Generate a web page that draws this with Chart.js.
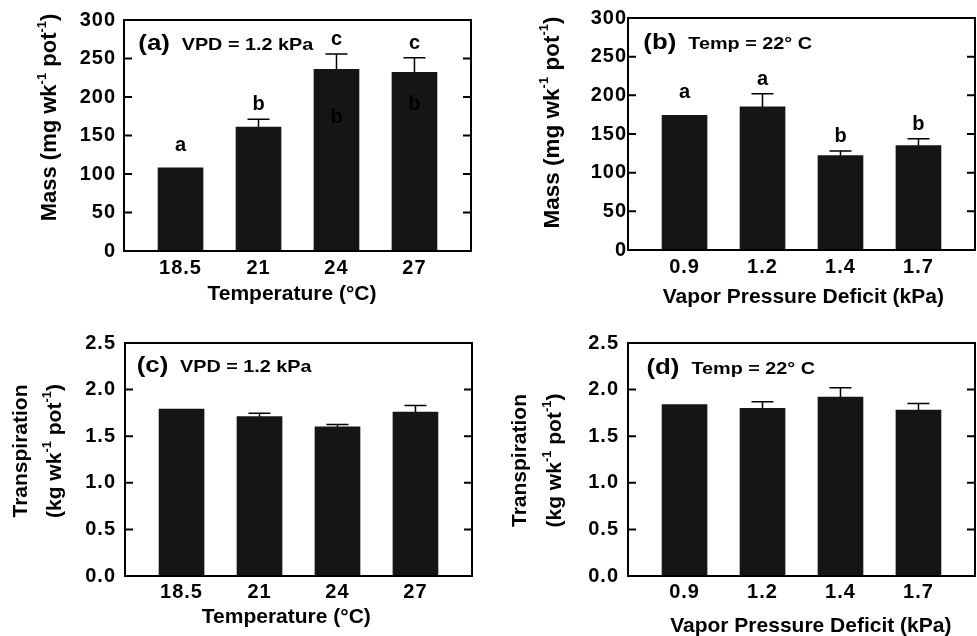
<!DOCTYPE html>
<html>
<head>
<meta charset="utf-8">
<script src="https://cdn.jsdelivr.net/npm/chart.js@4.4.0/dist/chart.umd.min.js"></script>
<style>
  body { margin: 0; background: #fff; width: 977px; height: 636px; position: relative; overflow: hidden; }
  canvas { position: absolute; }
</style>
</head>
<body>
<canvas id="pa" width="488" height="318" style="left:0;top:0"></canvas>
<canvas id="pb" width="487" height="318" style="left:490px;top:0"></canvas>
<canvas id="pc" width="488" height="316" style="left:0;top:320px"></canvas>
<canvas id="pd" width="487" height="316" style="left:490px;top:320px"></canvas>
<script>
/* данные */
const tempLabels = ['18.5', '21', '24', '27'];
const vpdLabels = ['0.9', '1.2', '1.4', '1.7'];

const massTemp = [108, 161, 236, 232];
const massTempErr = [0, 10, 20, 19];
const massTempLetters = ['a', 'b', 'c', 'c'];
const massTempInner = [null, null, 166, 183]; // бледные "b" внутри столбцов

const massVpd = [174, 185, 122, 135];
const massVpdErr = [0, 17, 6, 9];
const massVpdLetters = ['a', 'a', 'b', 'b'];

const trTemp = [1.79, 1.71, 1.60, 1.76];
const trTempErr = [0, 0.035, 0.025, 0.07];

const trVpd = [1.84, 1.80, 1.92, 1.78];
const trVpdErr = [0, 0.07, 0.10, 0.07];

const massTicks = [0, 50, 100, 150, 200, 250, 300];
const trTicks = [0, 0.5, 1.0, 1.5, 2.0, 2.5];

const FONT = '"Liberation Sans", Arial, Helvetica, sans-serif';
const SX = 1.2; // в оригинале шрифт слегка растянут по горизонтали

function fillWide(ctx, text, x, y) {
  ctx.save();
  ctx.translate(x, y);
  ctx.scale(SX, 1);
  ctx.fillText(text, 0, 0);
  ctx.restore();
}

/* текст с верхними индексами: [текст, верхний?] */
function drawRich(ctx, segs, cx, cy, size) {
  const main = 'bold ' + size + 'px ' + FONT, sup = 'bold 13px ' + FONT;
  let total = 0;
  segs.forEach(s => { ctx.font = s[1] ? sup : main; total += ctx.measureText(s[0]).width; });
  let x = cx - total / 2;
  ctx.textAlign = 'left';
  ctx.textBaseline = 'middle';
  segs.forEach(s => {
    ctx.font = s[1] ? sup : main;
    ctx.fillText(s[0], x, s[1] ? cy - 8 : cy);
    x += ctx.measureText(s[0]).width;
  });
}

/* рамка, внутренние засечки, погрешности, буквы, подписи панели */
const panelPlugin = {
  id: 'panel',
  beforeDraw(chart) {
    chart.ctx.letterSpacing = '1px'; // для подписей делений
  },
  afterDatasetsDraw(chart, args, o) {
    const { ctx, chartArea: a } = chart;
    const x = chart.scales.x, y = chart.scales.y;
    ctx.save();
    ctx.letterSpacing = '0px';
    ctx.strokeStyle = '#000';
    ctx.fillStyle = '#000';

    ctx.lineWidth = 1.5;
    ctx.font = 'bold 20px ' + FONT;
    ctx.textAlign = 'center';
    ctx.textBaseline = 'alphabetic';
    o.values.forEach((v, i) => {
      const e = o.errors[i];
      const px = x.getPixelForValue(i + 1);
      const y1 = y.getPixelForValue(v + e);
      if (e > 0) {
        ctx.beginPath();
        ctx.moveTo(px, y.getPixelForValue(v));
        ctx.lineTo(px, y1);
        ctx.moveTo(px - 11, y1);
        ctx.lineTo(px + 11, y1);
        ctx.stroke();
      }
      if (o.letters) ctx.fillText(o.letters[i], px, y1 - (e > 0 ? 9 : 17));
      if (o.inner && o.inner[i] != null) ctx.fillText('b', px, y.getPixelForValue(o.inner[i]));
    });

    ctx.lineWidth = 2;
    ctx.strokeRect(a.left, a.top, a.right - a.left, a.bottom - a.top);
    y.ticks.slice(1, -1).forEach(t => {
      const py = y.getPixelForValue(t.value);
      ctx.beginPath();
      ctx.moveTo(a.left, py); ctx.lineTo(a.left + 8, py);
      ctx.moveTo(a.right, py); ctx.lineTo(a.right - 8, py);
      ctx.stroke();
    });

    ctx.textAlign = 'left';
    ctx.font = 'bold 21.5px ' + FONT;
    fillWide(ctx, o.tag, a.left + o.tagDx, a.top + o.tagDy);
    ctx.font = 'bold 16.5px ' + FONT;
    fillWide(ctx, o.note, a.left + o.noteDx, a.top + o.tagDy);

    // подпись оси X
    ctx.font = 'bold 21px ' + FONT;
    ctx.textAlign = 'center';
    ctx.textBaseline = 'middle';
    ctx.fillText(o.xTitle, o.xTitleX, o.xTitleMid);

    o.yTitle.forEach((line, k) => {
      ctx.save();
      ctx.translate(o.yTitleX[k], o.yTitleY);
      ctx.rotate(-Math.PI / 2);
      drawRich(ctx, line, 0, 0, o.yTitleSize);
      ctx.restore();
    });
    ctx.restore();
  }
};

function makeChart(id, g) {
  const tickFont = { family: FONT, size: 20, weight: 'bold' };
  return new Chart(document.getElementById(id), {
    type: 'bar',
    data: {
      datasets: [{
        data: g.values.map((v, i) => ({ x: i + 1, y: v })),
        backgroundColor: '#151515',
        borderWidth: 0,
        barThickness: 45
      }]
    },
    options: {
      responsive: false,
      animation: false,
      devicePixelRatio: 1,
      layout: { padding: { left: 0, top: g.T, right: g.W - g.R, bottom: 0 } },
      plugins: { legend: { display: false }, tooltip: { enabled: false }, panel: g },
      scales: {
        x: {
          type: 'linear', offset: false, min: 0.275, max: 4.725,
          grid: { display: false, drawTicks: false }, border: { display: false },
          afterBuildTicks: s => { s.ticks = g.cats.map((c, i) => ({ value: i + 1 })); },
          ticks: { callback: v => g.cats[v - 1], font: tickFont, color: '#000', padding: g.xPad, maxRotation: 0, autoSkip: false },
          afterFit: s => { s.height = g.H - g.B; }
        },
        y: {
          min: 0, max: g.yTicks[g.yTicks.length - 1],
          grid: { display: false, drawTicks: false }, border: { display: false },
          afterBuildTicks: s => { s.ticks = g.yTicks.map(v => ({ value: v })); },
          ticks: { callback: v => g.yFmt(v), font: tickFont, color: '#000', padding: g.yPad, autoSkip: false },
          afterFit: s => { s.width = g.L; }
        }
      }
    },
    plugins: [panelPlugin]
  });
}

const massTitle = [[['Mass (mg wk'], ['-1', true], [' pot'], ['-1', true], [')']]];
const trTitle = [[['Transpiration']], [['(kg wk'], ['-1', true], [' pot'], ['-1', true], [')']]];
const fmtInt = v => String(v);
const fmt1 = v => v.toFixed(1);

makeChart('pa', {
  W: 488, H: 318, L: 124, R: 471, T: 18, B: 251, xPad: 5, yPad: 8,
  cats: tempLabels, values: massTemp, errors: massTempErr, letters: massTempLetters, inner: massTempInner,
  yTicks: massTicks, yFmt: fmtInt,
  xTitle: 'Temperature (°C)', xTitleX: 292, xTitleMid: 294.4,
  tag: '(a)', note: 'VPD = 1.2 kPa', tagDx: 14.3, tagDy: 29.5, noteDx: 57.7,
  yTitle: massTitle, yTitleX: [50.4], yTitleY: 117.5, yTitleSize: 22
});
makeChart('pb', {
  W: 487, H: 318, L: 138, R: 485, T: 18, B: 250, xPad: 5.5, yPad: 1,
  cats: vpdLabels, values: massVpd, errors: massVpdErr, letters: massVpdLetters, inner: null,
  yTicks: massTicks, yFmt: fmtInt,
  xTitle: 'Vapor Pressure Deficit (kPa)', xTitleX: 313.3, xTitleMid: 297,
  tag: '(b)', note: 'Temp = 22° C', tagDx: 15.3, tagDy: 31, noteDx: 60.3,
  yTitle: massTitle, yTitleX: [62.7], yTitleY: 122.5, yTitleSize: 22.5
});
makeChart('pc', {
  W: 488, H: 316, L: 125, R: 472, T: 23, B: 256, xPad: 4, yPad: 9,
  cats: tempLabels, values: trTemp, errors: trTempErr, letters: null, inner: null,
  yTicks: trTicks, yFmt: fmt1,
  xTitle: 'Temperature (°C)', xTitleX: 286.3, xTitleMid: 297.7,
  tag: '(c)', note: 'VPD = 1.2 kPa', tagDx: 11.7, tagDy: 29.4, noteDx: 55,
  yTitle: trTitle, yTitleX: [21, 55], yTitleY: 131, yTitleSize: 21
});
makeChart('pd', {
  W: 487, H: 316, L: 138, R: 485, T: 23, B: 256, xPad: 4, yPad: 9,
  cats: vpdLabels, values: trVpd, errors: trVpdErr, letters: null, inner: null,
  yTicks: trTicks, yFmt: fmt1,
  xTitle: 'Vapor Pressure Deficit (kPa)', xTitleX: 320.8, xTitleMid: 306,
  tag: '(d)', note: 'Temp = 22° C', tagDx: 18.4, tagDy: 30.7, noteDx: 63.4,
  yTitle: trTitle, yTitleX: [30.4, 65.2], yTitleY: 140.5, yTitleSize: 21
});
</script>
</body>
</html>
